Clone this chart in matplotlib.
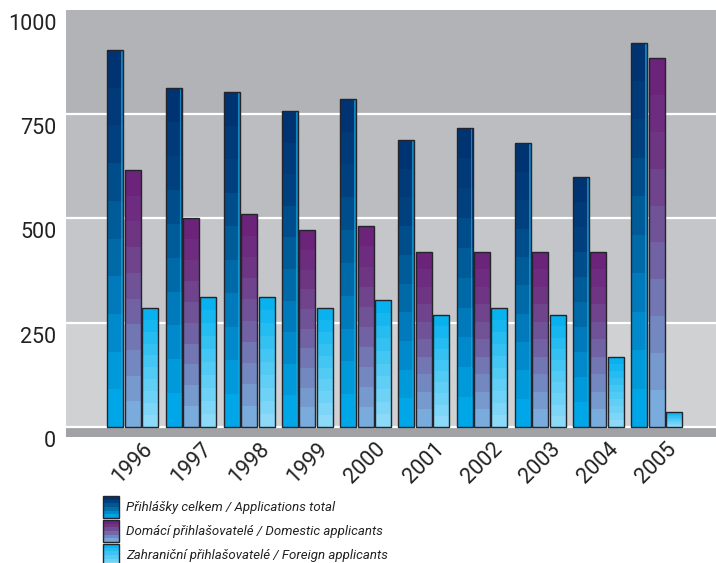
import numpy as np
import matplotlib
matplotlib.use('Agg')
import matplotlib.pyplot as plt
from matplotlib.colors import LinearSegmentedColormap
from matplotlib.patches import Rectangle
from matplotlib.transforms import blended_transform_factory, ScaledTranslation

# data
years = ['1996', '1997', '1998', '1999', '2000', '2001', '2002', '2003', '2004', '2005']
total = [904, 812, 803, 758, 787, 688, 716, 680, 599, 922]
domestic = [616, 500, 510, 472, 481, 420, 420, 420, 420, 885]
foreign = [286, 312, 312, 285, 304, 268, 285, 268, 169, 36]
series_labels = ['Přihlášky celkem / Applications total',
                 'Domácí přihlašovatelé / Domestic applicants',
                 'Zahraniční přihlašovatelé / Foreign applicants']
y_ticks = [0, 250, 500, 750, 1000]

# step gradients, bottom -> top
cm_total = LinearSegmentedColormap.from_list('t', ['#00aeef', '#008acb', '#00629f', '#00407f', '#00306e'])
cm_dom = LinearSegmentedColormap.from_list('d', ['#7bb3e2', '#7388c0', '#715a9c', '#6e3583', '#6b1f78'])
cm_for = LinearSegmentedColormap.from_list('f', ['#93dcf8', '#4ac8f4', '#00b0ef'])
cmaps = [cm_total, cm_dom, cm_for]
band_cols = ['#d0d1d3', '#c5c6c9', '#bcbdc0', '#b2b3b6']

plt.rcParams['font.family'] = ['Roboto', 'DejaVu Sans']

fig = plt.figure(figsize=(7.16, 5.63), dpi=100)
ax = fig.add_axes([66 / 716, (563 - 437) / 563, 650 / 716, 427 / 563])
ax.set_ylim(-24, 1000)
ax.set_xlim(-1.148, 10.02)

# background bands and white grid lines
for i in range(4):
    ax.axhspan(y_ticks[i], y_ticks[i + 1], color=band_cols[i], lw=0, zorder=0)
ax.axhspan(-24, 0, color='#a1a2a5', lw=0, zorder=0)
for v in y_ticks[:-1]:
    ax.axhline(v, color='white', lw=1.6, zorder=1)

x = np.arange(len(years))
w = 0.275
offs = [-0.30, 0.0, 0.30]
nsteps = 10
for s, vals in enumerate([total, domestic, foreign]):
    for xi, h in zip(x + offs[s], vals):
        for k in range(nsteps):
            ax.bar(xi, h / nsteps, bottom=k * h / nsteps, width=w,
                   color=cmaps[s]((k + 0.5) / nsteps), lw=0, zorder=3)
        if s == 0:
            ax.bar(xi + w / 2 - 0.018, h, width=0.03, color='#19a6e0', alpha=0.7, lw=0, zorder=4)
        ax.bar(xi, h, width=w, fill=False, edgecolor='#24242c', lw=1.0, zorder=5)

for sp in ax.spines.values():
    sp.set_visible(False)
ax.set_xticks([])
ax.set_yticks([])

# y labels sit just below their grid lines
ytr = blended_transform_factory(ax.transAxes, ax.transData) + \
    ScaledTranslation(0, -0.04, fig.dpi_scale_trans)
for v in y_ticks:
    ax.text(-0.015, v, str(v), transform=ytr, ha='right', va='top',
            fontsize=15.5, color='#222222')

xtr = blended_transform_factory(ax.transData, ax.transAxes)
for xi, yr in zip(x, years):
    ax.text(xi, -0.06, yr, transform=xtr, rotation=45, ha='center', va='center',
            fontsize=15.5, color='#222222')

# legend
lax = fig.add_axes([0, 0, 1, 1])
lax.set_xlim(0, 716)
lax.set_ylim(563, 0)
lax.axis('off')
lax.patch.set_visible(False)
for i, lab in enumerate(series_labels):
    y0 = 496 + i * 24
    hh = 22
    for k in range(6):
        lax.add_patch(Rectangle((103, y0 + hh - (k + 1) * hh / 6), 16, hh / 6,
                                color=cmaps[i]((k + 0.5) / 6), lw=0))
    lax.add_patch(Rectangle((103, y0), 16, hh, fill=False, edgecolor='#24242c', lw=1.0))
    lax.text(126, y0 + hh / 2, lab, ha='left', va='center', fontsize=9.5,
             style='italic', color='#222222')

fig.savefig('out.png', dpi=100)
